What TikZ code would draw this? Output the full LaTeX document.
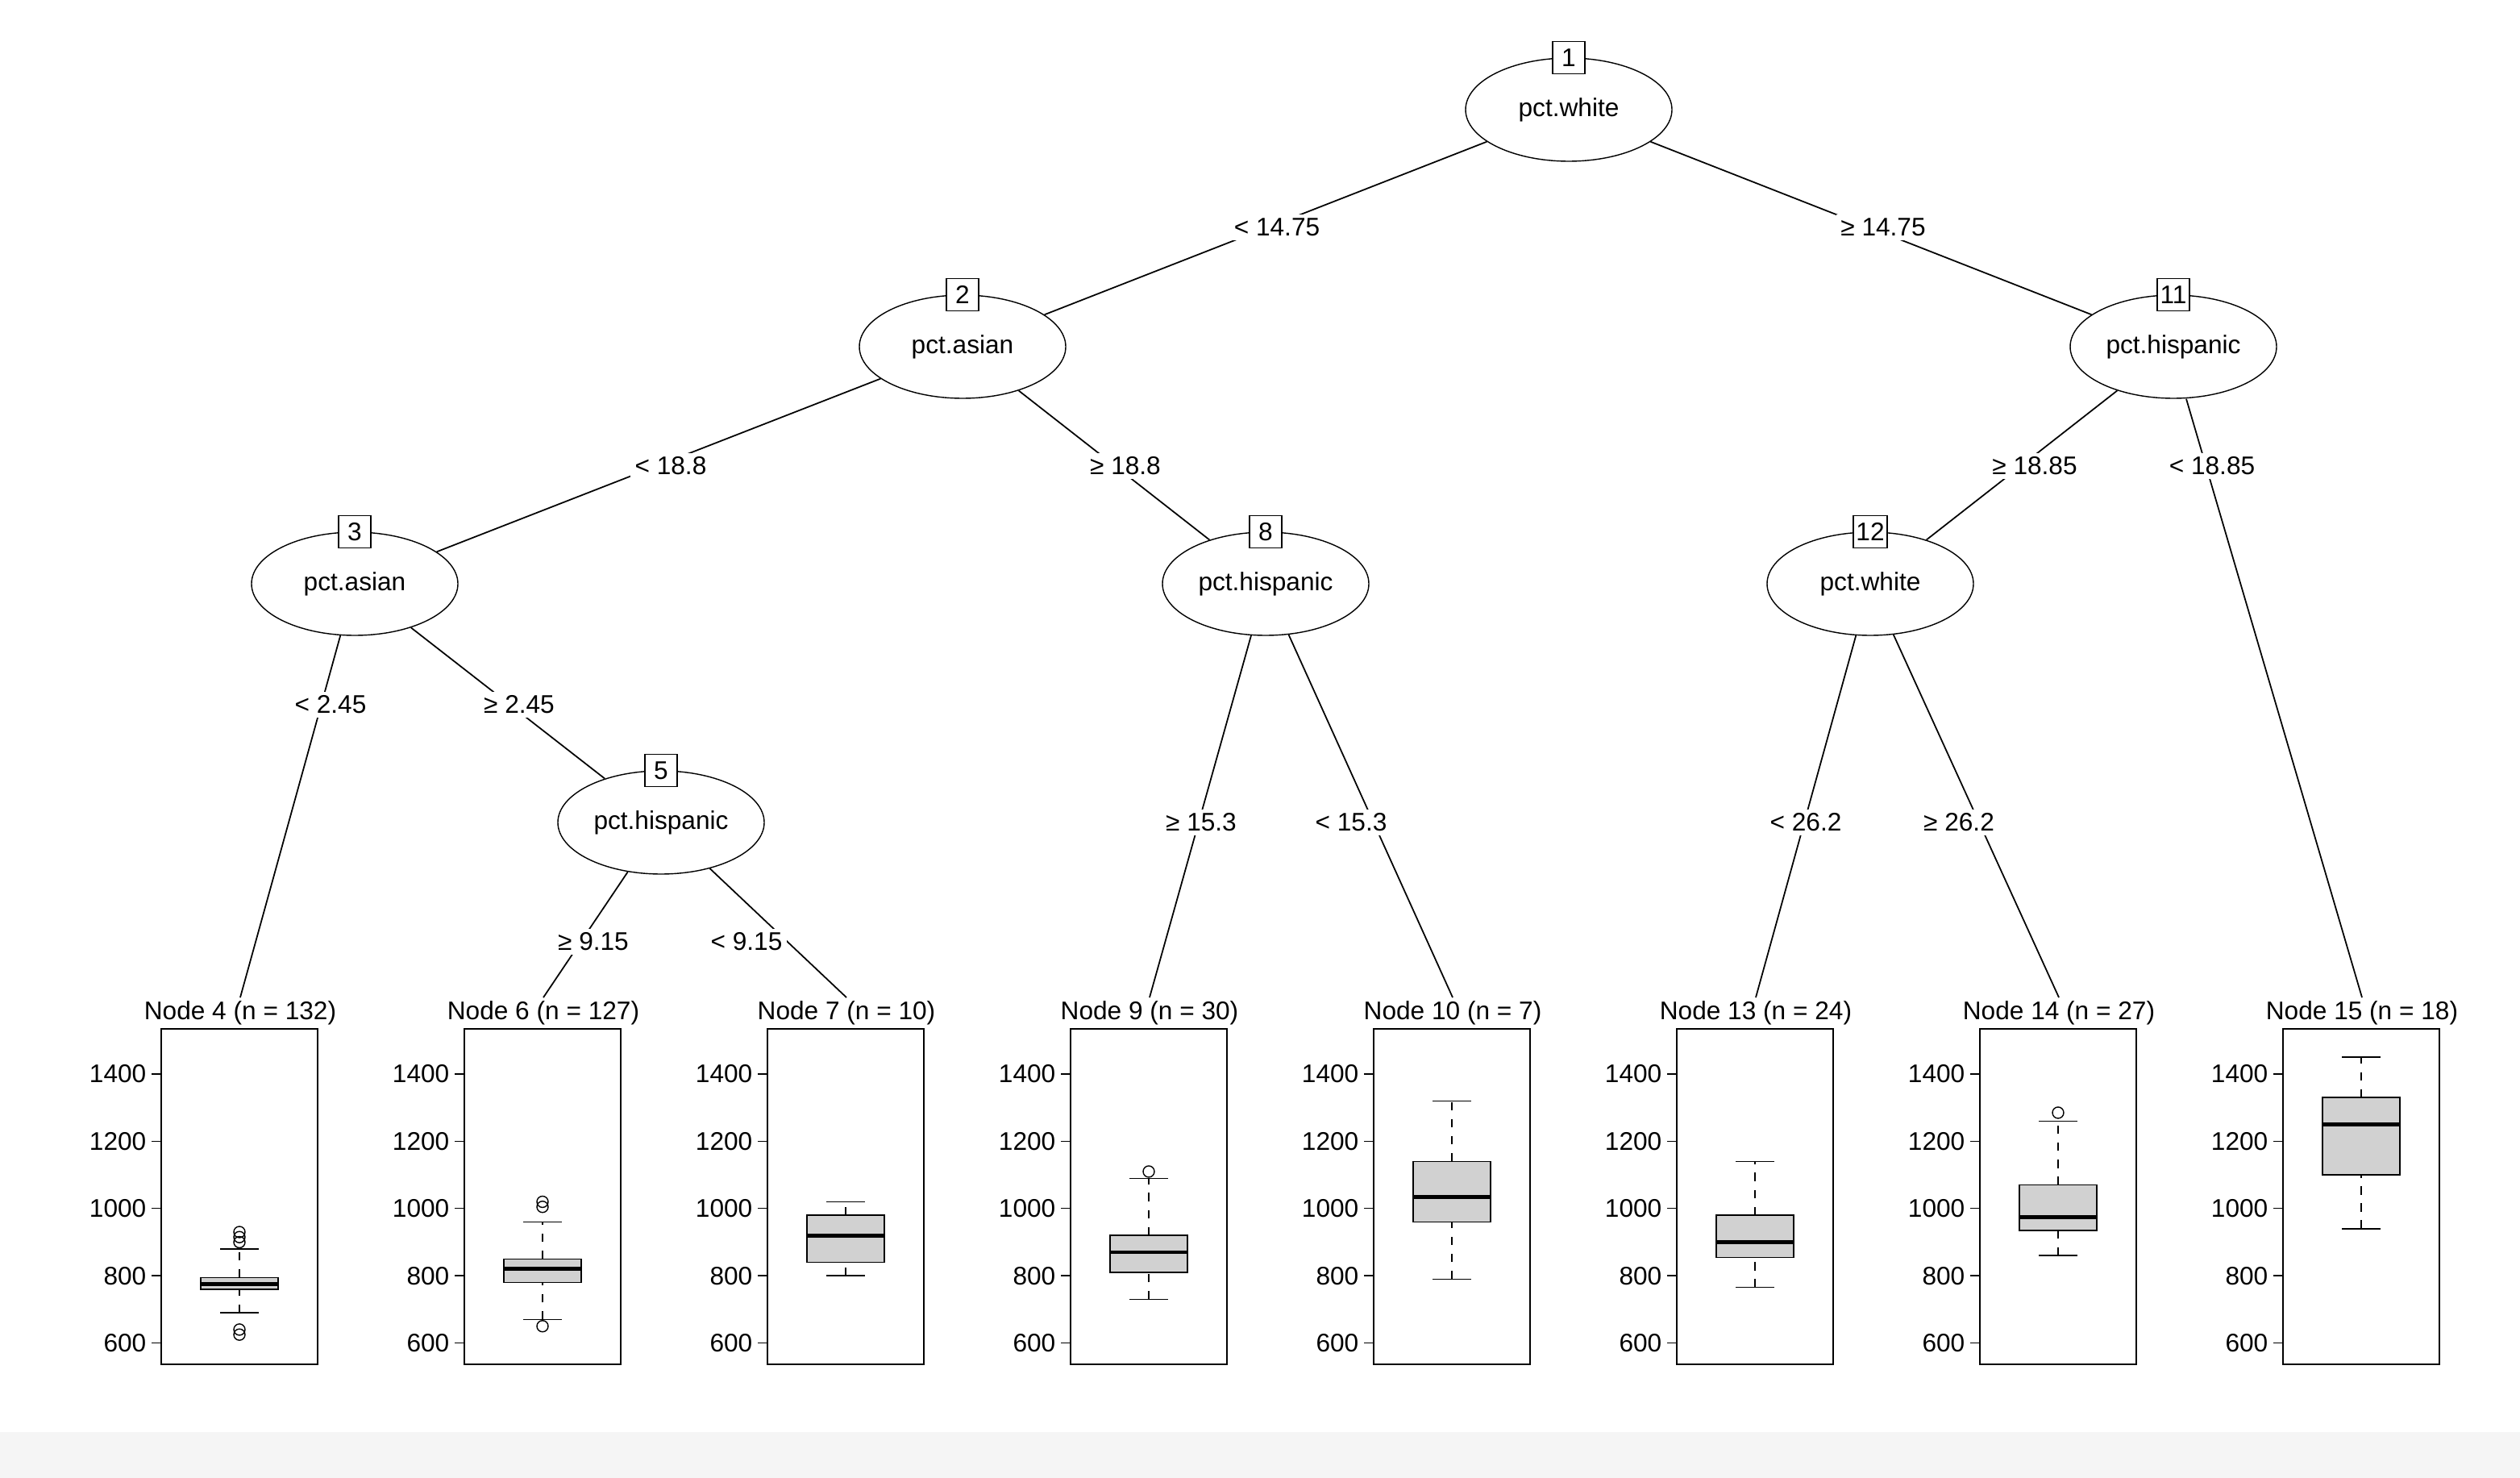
\documentclass[tikz,border=0pt]{standalone}
\usepackage{fontspec}
\setmainfont{Liberation Sans}
\usetikzlibrary{shapes.geometric}
\begin{document}
\begin{tikzpicture}[x=0.02cm,y=-0.02cm,
  font=\fontsize{9}{10}\selectfont,
  inner/.style={ellipse,draw,minimum width=128*0.02cm,minimum height=64*0.02cm,inner sep=0pt},
  num/.style={draw,fill=white,minimum size=20*0.02cm,inner sep=1pt},
  elab/.style={fill=white,inner sep=1.5pt},
  leaf/.style={inner sep=1pt},
  edge/.style={draw,line width=0.5pt}]
\useasboundingbox (0,0) rectangle (1563,916.5);
\fill[black!4] (0,888) rectangle (1563,916.5);
% inner nodes
\node[inner] (n1) at (973,68) {pct.white};
\node[inner] (n2) at (597,215) {pct.asian};
\node[inner] (n11) at (1348,215) {pct.hispanic};
\node[inner] (n3) at (220,362) {pct.asian};
\node[inner] (n8) at (785,362) {pct.hispanic};
\node[inner] (n12) at (1160,362) {pct.white};
\node[inner] (n5) at (410,510) {pct.hispanic};
% leaf titles
\foreach \nm/\x/\t in {l4/149/{Node 4 (n = 132)},l6/337/{Node 6 (n = 127)},l7/525/{Node 7 (n = 10)},l9/713/{Node 9 (n = 30)},l10/901/{Node 10 (n = 7)},l13/1089/{Node 13 (n = 24)},l14/1277/{Node 14 (n = 27)},l15/1465/{Node 15 (n = 18)}}
  \node[leaf] (\nm) at (\x,628) {\t};
% edges
\draw[edge] (n1) -- (n2); \draw[edge] (n1) -- (n11);
\draw[edge] (n2) -- (n3); \draw[edge] (n2) -- (n8);
\draw[edge] (n11) -- (n12); \draw[edge] (n11.south) ++(8,0) coordinate (a15) -- (l15.north);
\draw[edge] (n3) -- (l4.north); \draw[edge] (n3) -- (n5);
\draw[edge] (n5) -- (l6.north); \draw[edge] (n5) -- (l7.north);
\draw[edge] (n8) -- (l9.north); \draw[edge] (n8) -- (l10.north);
\draw[edge] (n12) -- (l13.north); \draw[edge] (n12) -- (l14.north);
% number boxes
\foreach \n/\t in {n1/1,n2/2,n11/11,n3/3,n8/8,n12/12,n5/5}
  \node[num] (b\n) at (\n.north) {\t};
% edge labels
\node[elab] (e1) at (792,141) {< 14.75};
\node[elab] (e2) at (1168,141) {≥ 14.75};
\node[elab] (e3) at (416,289) {< 18.8};
\node[elab] (e4) at (698,289) {≥ 18.8};
\node[elab] (e5) at (1262,289) {≥ 18.85};
\node[elab] (e6) at (1372,289) {< 18.85};
\node[elab] (e7) at (205,437) {< 2.45};
\node[elab] (e8) at (322,437) {≥ 2.45};
\node[elab] (e9) at (368,584) {≥ 9.15};
\node[elab] (e10) at (463,584) {< 9.15};
\node[elab] (e11) at (745,510) {≥ 15.3};
\node[elab] (e12) at (838,510) {< 15.3};
\node[elab] (e13) at (1120,510) {< 26.2};
\node[elab] (e14) at (1215,510) {≥ 26.2};
% panels
\def\Y#1{666+(1400-#1)*0.2085}
\foreach \L/\wl/\ql/\md/\qh/\wh/\outs in {
  100/690/760/775/795/880/{900,915,930,640,625},
  288/670/780/820/850/960/{1005,1020,650},
  476/800/840/920/980/1020/{},
  664/730/810/870/920/1090/{1110},
  852/790/960/1035/1140/1320/{},
  1040/765/855/900/980/1140/{},
  1228/860/935/975/1070/1260/{1285},
  1416/940/1100/1250/1330/1450/{}}{
  \draw (\L,638) rectangle (\L+97,846);
  \foreach \v in {600,800,1000,1200,1400}{
    \draw (\L,{\Y{\v}}) -- (\L-6,{\Y{\v}});
    \node[anchor=east,inner sep=0pt] at (\L-9,{\Y{\v}}) {\v};}
  \pgfmathsetmacro\c{\L+48.5}
  \draw[dashed] (\c,{\Y{\wl}}) -- (\c,{\Y{\ql}}) (\c,{\Y{\qh}}) -- (\c,{\Y{\wh}});
  \draw (\c-12,{\Y{\wl}}) -- (\c+12,{\Y{\wl}}) (\c-12,{\Y{\wh}}) -- (\c+12,{\Y{\wh}});
  \draw[fill=black!18] (\c-24,{\Y{\ql}}) rectangle (\c+24,{\Y{\qh}});
  \draw[line width=1.4pt] (\c-24,{\Y{\md}}) -- (\c+24,{\Y{\md}});
  \foreach \o in \outs {\draw (\c,{\Y{\o}}) circle (3.5);}
}
\end{tikzpicture}
\end{document}
